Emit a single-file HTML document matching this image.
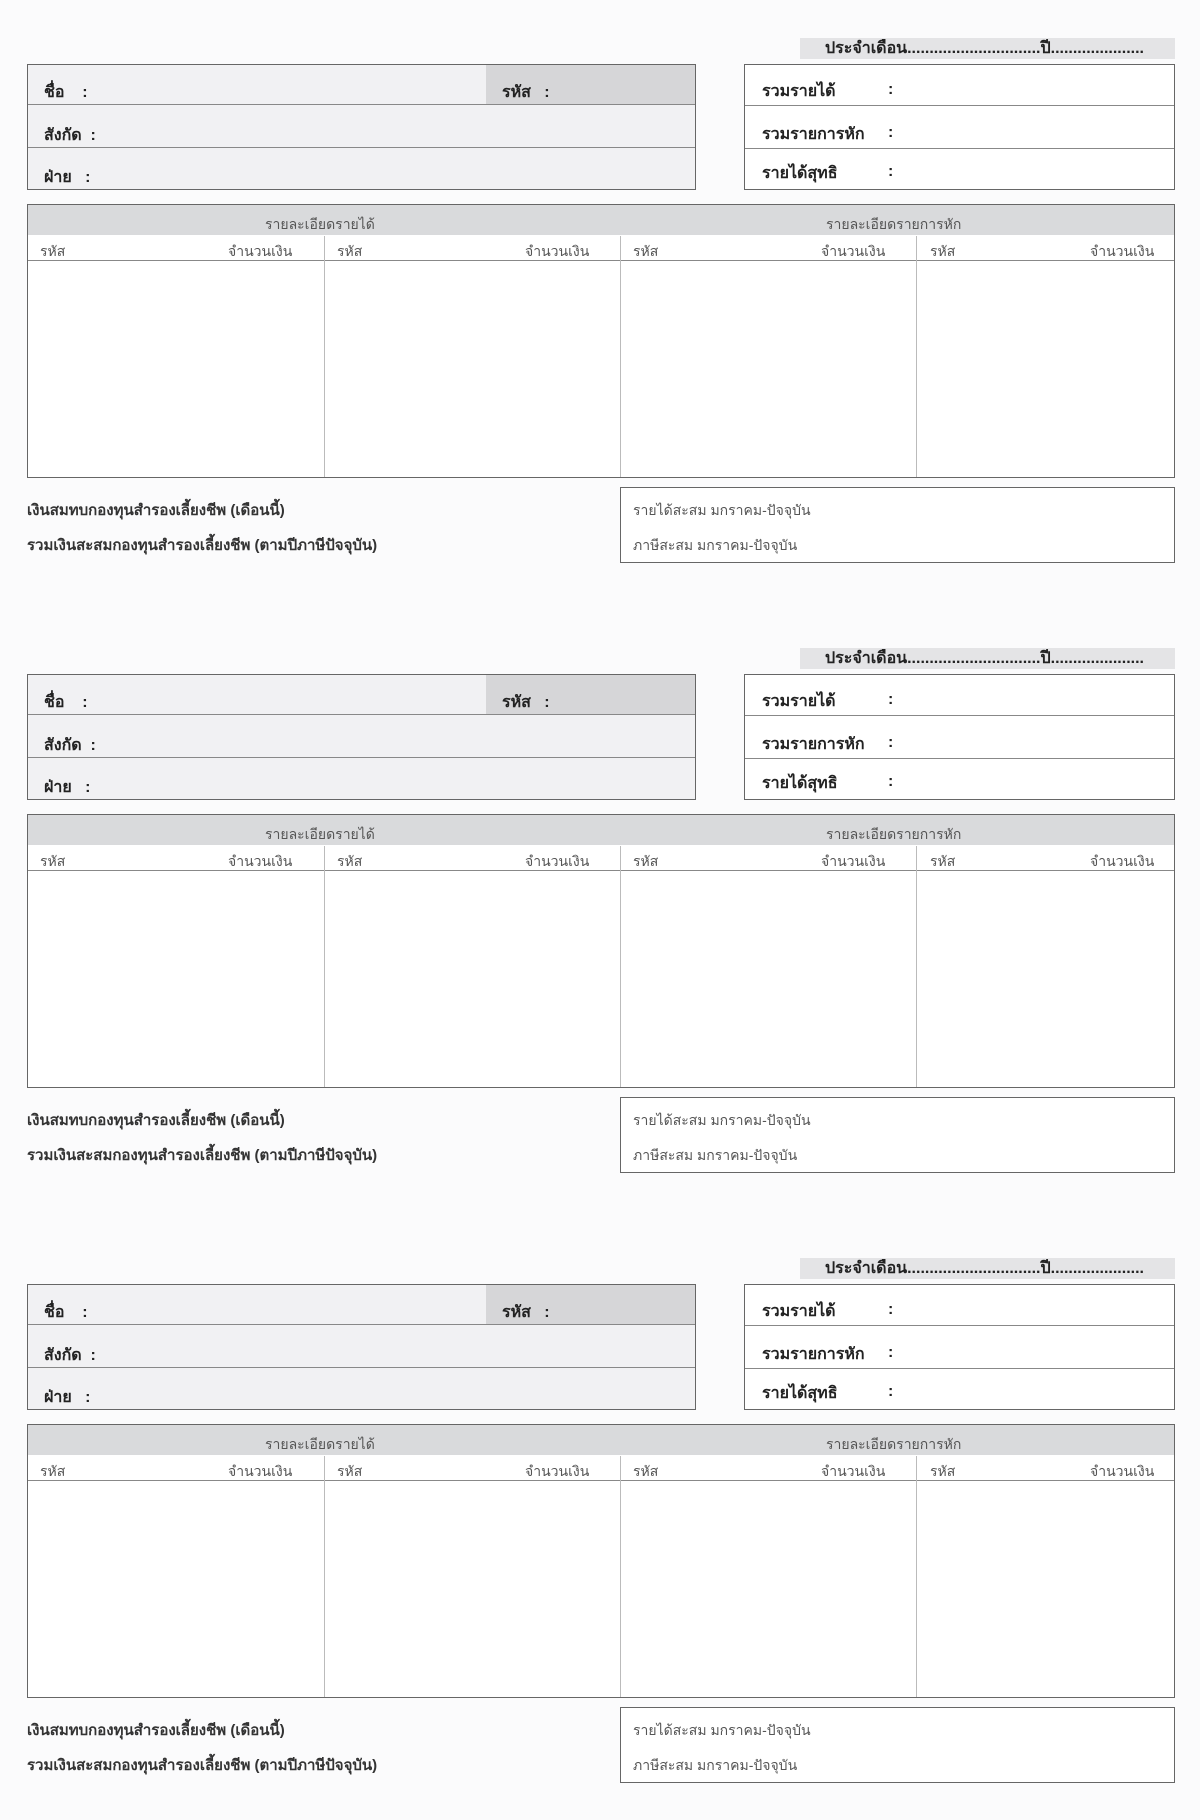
<!DOCTYPE html>
<html><head><meta charset="utf-8"><style>
body{margin:0;width:1200px;height:1800px;background:#fbfbfc;position:relative;overflow:hidden;font-family:"Liberation Sans","Noto Sans CJK SC",sans-serif;color:#333}
.blk{position:absolute;left:0;width:1200px;height:600px}
.a{position:absolute;white-space:nowrap}
.box{position:absolute;border:1.5px solid #666;box-sizing:border-box}
.ln{position:absolute;background:#888;height:1px}
.vl{position:absolute;background:#bbb;width:1px}
.lbl{font-size:16px;font-weight:bold;color:#222}
.sm{font-size:14px;color:#555}
</style></head><body>
<div class="blk" id="b0" style="top:0">
 <div class="a lbl" style="left:800px;top:38px;width:375px;height:21px;background:#e4e4e6;line-height:21px;padding-left:25px;box-sizing:border-box">ประจำเดือน..............................ปี.....................</div>
 <div class="box" style="left:27px;top:64px;width:669px;height:126px;background:#f1f1f3"></div>
 <div class="a" style="left:486px;top:65px;width:209px;height:39px;background:#d6d6d8"></div>
 <div class="ln" style="left:28px;top:104px;width:667px"></div>
 <div class="ln" style="left:28px;top:147px;width:667px"></div>
 <div class="a lbl" style="left:44px;top:80px">ชื่อ &nbsp;&nbsp;&nbsp;:</div>
 <div class="a lbl" style="left:502px;top:80px">รหัส &nbsp;&nbsp;:</div>
 <div class="a lbl" style="left:44px;top:123px">สังกัด &nbsp;:</div>
 <div class="a lbl" style="left:44px;top:165px">ฝ่าย &nbsp;&nbsp;:</div>
 <div class="box" style="left:744px;top:64px;width:431px;height:126px;background:#fff"></div>
 <div class="ln" style="left:745px;top:105px;width:429px"></div>
 <div class="ln" style="left:745px;top:148px;width:429px"></div>
 <div class="a lbl" style="left:762px;top:79px">รวมรายได้</div>
 <div class="a lbl" style="left:762px;top:122px">รวมรายการหัก</div>
 <div class="a lbl" style="left:762px;top:161px">รายได้สุทธิ</div>
 <div class="a lbl" style="left:888px;top:81px">:</div><div class="a lbl" style="left:888px;top:124px">:</div><div class="a lbl" style="left:888px;top:163px">:</div>
 <div class="box" style="left:27px;top:204px;width:1148px;height:274px;background:#fff"></div>
 <div class="a" style="left:28px;top:205px;width:1146px;height:30px;background:#d9dadc"></div>
 <div class="a sm" style="left:265px;top:214px">รายละเอียดรายได้</div>
 <div class="a sm" style="left:826px;top:214px">รายละเอียดรายการหัก</div>
 <div class="ln" style="left:28px;top:260px;width:1146px"></div>
 <div class="vl" style="left:324px;top:236px;height:241px"></div>
 <div class="vl" style="left:620px;top:236px;height:241px"></div>
 <div class="vl" style="left:916px;top:236px;height:241px"></div>
 <div class="a sm" style="left:40px;top:241px">รหัส</div><div class="a sm" style="left:228px;top:241px">จำนวนเงิน</div>
 <div class="a sm" style="left:337px;top:241px">รหัส</div><div class="a sm" style="left:525px;top:241px">จำนวนเงิน</div>
 <div class="a sm" style="left:633px;top:241px">รหัส</div><div class="a sm" style="left:821px;top:241px">จำนวนเงิน</div>
 <div class="a sm" style="left:930px;top:241px">รหัส</div><div class="a sm" style="left:1090px;top:241px">จำนวนเงิน</div>
 <div class="a" style="left:27px;top:498px;font-size:15px;font-weight:bold;color:#333">เงินสมทบกองทุนสำรองเลี้ยงชีพ (เดือนนี้)</div>
 <div class="a" style="left:27px;top:533px;font-size:15px;font-weight:bold;color:#333">รวมเงินสะสมกองทุนสำรองเลี้ยงชีพ (ตามปีภาษีปัจจุบัน)</div>
 <div class="box" style="left:620px;top:487px;width:555px;height:76px;background:#fff"></div>
 <div class="a sm" style="left:633px;top:500px">รายได้สะสม มกราคม-ปัจจุบัน</div>
 <div class="a sm" style="left:633px;top:535px">ภาษีสะสม มกราคม-ปัจจุบัน</div>
</div>
<script>
var b=document.getElementById('b0');
[610,1220].forEach(function(t){var c=b.cloneNode(true);c.id='';c.style.top=t+'px';


document.body.appendChild(c);});
</script>
</body></html>
